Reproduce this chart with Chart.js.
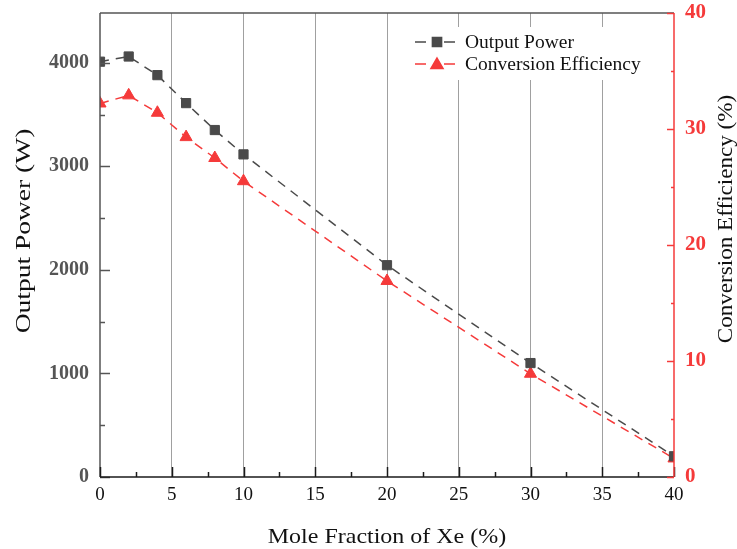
<!DOCTYPE html>
<html>
<head>
<meta charset="utf-8">
<script src="https://cdn.jsdelivr.net/npm/chart.js@4.4.1/dist/chart.umd.min.js"></script>
<style>
html,body{margin:0;padding:0;background:#fff;}
canvas{display:block;}
</style>
</head>
<body>
<canvas id="c" width="737" height="549"></canvas>
<script>
// ---- data ----
const moleFraction = [0, 2, 4, 6, 8, 10, 20, 30, 40];
const outputPower = [4010, 4060, 3880, 3610, 3350, 3115, 2045, 1100, 200];
const conversionEfficiency = [32.2, 32.9, 31.4, 29.3, 27.5, 25.5, 16.9, 8.9, 1.6];
const powerTicks = [0, 1000, 2000, 3000, 4000];
const seriesNames = ['Output Power', 'Conversion Efficiency'];
const xTitle = 'Mole Fraction of Xe (%)';
const yLeftTitle = 'Output Power (W)';
const yRightTitle = 'Conversion Efficiency (%)';

const powerColor = 'rgb(74,74,74)';
const effColor = 'rgb(245,58,58)';
const serif = '"Liberation Serif", "Times New Roman", serif';

const toPts = (xs, ys) => xs.map((x, i) => ({x: x, y: ys[i]}));

const axisDecor = {
  id: 'axisDecor',
  afterDatasetsDraw(chart) {
    const ctx = chart.ctx;
    const ca = chart.chartArea;
    const sx = chart.scales.x, yl = chart.scales.y, yr = chart.scales.y1;
    ctx.save();
    ctx.lineWidth = 1.5;
    ctx.strokeStyle = '#555';
    ctx.beginPath(); ctx.moveTo(ca.left, ca.top); ctx.lineTo(ca.right, ca.top); ctx.stroke();
    ctx.beginPath(); ctx.moveTo(ca.left, ca.top); ctx.lineTo(ca.left, ca.bottom); ctx.stroke();
    for (let v = 0; v <= yl.max; v += 500) {
      const p = Math.round(yl.getPixelForValue(v)) + 0.5;
      const len = (v % 1000 === 0) ? 10 : 5;
      ctx.beginPath(); ctx.moveTo(ca.left, p); ctx.lineTo(ca.left + len, p); ctx.stroke();
    }
    ctx.strokeStyle = '#1a1a1a';
    ctx.beginPath(); ctx.moveTo(ca.left, ca.bottom); ctx.lineTo(ca.right, ca.bottom); ctx.stroke();
    for (let v = 0; v <= 40; v += 2.5) {
      const p = Math.round(sx.getPixelForValue(v)) + 0.5;
      const len = (v % 5 === 0) ? 10 : 5;
      ctx.beginPath(); ctx.moveTo(p, ca.bottom); ctx.lineTo(p, ca.bottom - len); ctx.stroke();
    }
    ctx.strokeStyle = effColor;
    ctx.beginPath(); ctx.moveTo(ca.right, ca.top); ctx.lineTo(ca.right, ca.bottom); ctx.stroke();
    for (let v = 0; v <= 40; v += 5) {
      const p = Math.round(yr.getPixelForValue(v)) + 0.5;
      const len = (v % 10 === 0) ? 7 : 3;
      ctx.beginPath(); ctx.moveTo(ca.right, p); ctx.lineTo(ca.right - len, p); ctx.stroke();
    }
    ctx.restore();
  }
};

function drawTitle(ctx, text, x, y, size, rot, stretch) {
  ctx.save();
  ctx.translate(x, y);
  ctx.rotate(rot);
  ctx.scale(stretch, 1);
  ctx.font = size + 'px ' + serif;
  ctx.fillStyle = '#111';
  ctx.textAlign = 'center';
  ctx.textBaseline = 'middle';
  ctx.fillText(text, 0, 0);
  ctx.restore();
}

const titlesAndLegend = {
  id: 'titlesAndLegend',
  afterDraw(chart) {
    const ctx = chart.ctx;
    const ca = chart.chartArea;
    drawTitle(ctx, xTitle, (ca.left + ca.right) / 2, 537, 22, 0, 1.09);
    drawTitle(ctx, yLeftTitle, 24, 231, 22, -Math.PI / 2, 1.25);
    drawTitle(ctx, yRightTitle, 726, 219, 21, -Math.PI / 2, 1.1);

    ctx.save();
    ctx.fillStyle = '#fff';
    ctx.fillRect(405, 27, 248, 53);
    const rows = [
      {name: seriesNames[0], color: powerColor, style: 'rect', r: 6.5, y: 42},
      {name: seriesNames[1], color: effColor, style: 'triangle', r: 7, y: 64}
    ];
    rows.forEach(row => {
      ctx.strokeStyle = row.color;
      ctx.lineWidth = 1.5;
      ctx.beginPath();
      ctx.moveTo(415, row.y); ctx.lineTo(426, row.y);
      ctx.moveTo(444, row.y); ctx.lineTo(455, row.y);
      ctx.stroke();
      ctx.fillStyle = row.color;
      Chart.helpers.drawPoint(ctx, {pointStyle: row.style, radius: row.r, borderWidth: 1}, 437, row.y + (row.style === 'triangle' ? 1 : 0));
      ctx.fillStyle = '#111';
      ctx.font = '19.5px ' + serif;
      ctx.textBaseline = 'middle';
      ctx.textAlign = 'left';
      ctx.fillText(row.name, 465, row.y + 1);
    });
    ctx.restore();
  }
};

new Chart(document.getElementById('c'), {
  type: 'line',
  data: {
    datasets: [
      {
        label: seriesNames[0],
        data: toPts(moleFraction, outputPower),
        yAxisID: 'y',
        borderColor: powerColor,
        backgroundColor: powerColor,
        borderWidth: 1.5,
        borderDash: [9, 7],
        pointStyle: 'rect',
        pointRadius: 6.5,
        pointBorderWidth: 1,
        pointBorderColor: powerColor,
        pointBackgroundColor: powerColor,
        clip: 0,
        tension: 0
      },
      {
        label: seriesNames[1],
        data: toPts(moleFraction, conversionEfficiency),
        yAxisID: 'y1',
        borderColor: effColor,
        backgroundColor: effColor,
        borderWidth: 1.5,
        borderDash: [9, 7],
        pointStyle: 'triangle',
        pointRadius: 7,
        pointBorderWidth: 1,
        pointBorderColor: effColor,
        pointBackgroundColor: effColor,
        clip: 0,
        tension: 0
      }
    ]
  },
  options: {
    responsive: false,
    animation: false,
    layout: {padding: {top: 13, left: 0, right: 0, bottom: 0}},
    plugins: {legend: {display: false}, tooltip: {enabled: false}},
    scales: {
      x: {
        type: 'linear',
        min: 0, max: 40,
        afterFit(s) { s.height = 72; s.paddingLeft = 0; s.paddingRight = 0; },
        ticks: {stepSize: 5, padding: 7, color: '#111', font: {family: serif, size: 19}, callback: v => String(v)},
        grid: {
          drawTicks: false,
          color: c => (c.index === 0 || c.tick.value === 40) ? 'rgba(0,0,0,0)' : '#a0a0a0',
          lineWidth: 1
        },
        border: {display: false}
      },
      y: {
        position: 'left',
        min: 0, max: 4480,
        afterFit(s) { s.width = 100; s.paddingTop = 0; s.paddingBottom = 0; },
        afterBuildTicks(s) { s.ticks = powerTicks.map(v => ({value: v})); },
        ticks: {padding: 11, color: '#555', font: {family: serif, size: 20, weight: 'bold'}, callback: v => String(v)},
        grid: {display: false, drawTicks: false},
        border: {display: false}
      },
      y1: {
        position: 'right',
        min: 0, max: 40,
        afterFit(s) { s.width = 63; s.paddingTop = 0; s.paddingBottom = 0; },
        ticks: {stepSize: 10, padding: 11, color: effColor, font: {family: serif, size: 21, weight: 'bold'}, callback: v => String(v)},
        grid: {display: false, drawTicks: false},
        border: {display: false}
      }
    }
  },
  plugins: [axisDecor, titlesAndLegend]
});
</script>
</body>
</html>
